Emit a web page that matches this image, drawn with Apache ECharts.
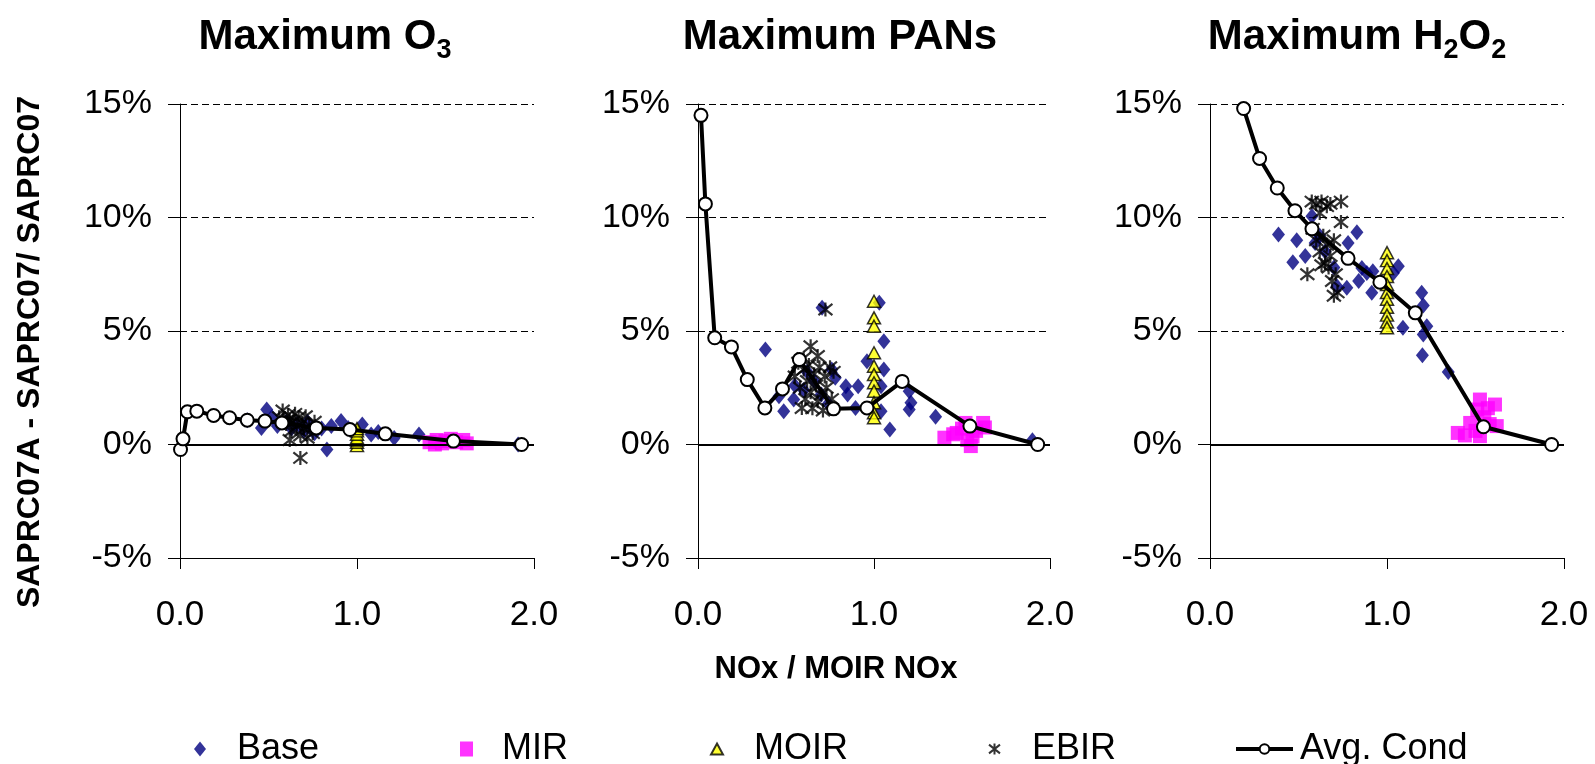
<!DOCTYPE html>
<html><head><meta charset="utf-8">
<script src="https://cdn.jsdelivr.net/npm/echarts@6/dist/echarts.min.js"></script>
<style>html,body{margin:0;padding:0;background:#fff}#c{width:1595px;height:764px}</style>
</head><body><div id="c"></div>
<script>
// ---------- DATA ----------
const panelTitles = ['Maximum O{s|3}', 'Maximum PANs', 'Maximum H{s|2}O{s|2}'];
const seriesNames = ['Base', 'MIR', 'MOIR', 'EBIR', 'Avg. Cond'];
const xTickMin = 0, xTickMax = 2, xTickStep = 1;
const yTickMin = -5, yTickMax = 15, yTickStep = 5;

// Maximum O3
const o3Base = [[0.38,1.07],[0.46,0.73],[0.49,1.54],[0.52,1.2],[0.55,0.81],[0.6,1.0],[0.63,0.7],[0.66,0.9],[0.7,0.6],[0.72,1.0],[0.76,0.5],[0.8,0.7],[0.83,-0.22],[0.855,0.81],[0.91,1.03],[0.95,0.73],[0.98,0.5],[1.03,0.88],[1.08,0.44],[1.12,0.55],[1.21,0.29],[1.35,0.44],[1.91,0.0]];
const o3Mir = [[1.41,0.1],[1.44,0.0],[1.45,0.2],[1.48,0.05],[1.5,0.15],[1.53,0.25],[1.56,0.1],[1.6,0.2],[1.62,0.05]];
const o3Moir = [[1.0,-0.05],[1.0,0.1],[1.0,0.2],[1.0,0.3],[1.0,0.45],[1.0,0.6],[1.0,0.7]];
const o3Ebir = [[0.56,1.2],[0.58,1.5],[0.6,0.9],[0.61,1.3],[0.62,1.1],[0.62,0.2],[0.63,0.6],[0.64,1.0],[0.65,1.35],[0.66,0.8],[0.67,1.2],[0.68,0.4],[0.68,-0.59],[0.69,0.95],[0.7,0.7],[0.71,1.25],[0.72,0.3],[0.73,0.85],[0.75,0.5],[0.76,1.0]];
const o3AvgX = [0.003,0.017,0.042,0.095,0.19,0.28,0.38,0.48,0.576,0.77,0.96,1.16,1.545,1.93];
const o3AvgY = [-0.22,0.25,1.44,1.47,1.28,1.18,1.07,1.03,0.95,0.73,0.66,0.47,0.15,0.0];

// Maximum PANs
const pansBase = [[0.383,4.18],[0.46,2.13],[0.487,1.47],[0.544,1.98],[0.55,2.6],[0.6,2.4],[0.62,3.2],[0.66,2.8],[0.7,2.2],[0.705,6.02],[0.74,1.8],[0.76,3.3],[0.78,2.94],[0.84,2.57],[0.85,2.2],[0.895,1.61],[0.91,2.57],[0.96,3.67],[1.03,6.24],[1.056,4.55],[1.056,3.3],[1.04,2.57],[1.04,1.47],[1.09,0.66],[1.2,2.35],[1.21,1.84],[1.2,1.54],[1.35,1.22],[1.9,0.19]];
const pansMir = [[1.40,0.30],[1.45,0.45],[1.47,0.51],[1.5,0.7],[1.52,0.95],[1.53,0.2],[1.55,-0.07],[1.56,0.35],[1.58,0.6],[1.62,0.95],[1.63,0.75]];
const pansMoir = [[1.0,6.31],[1.0,5.58],[1.0,5.21],[1.0,4.04],[1.0,3.45],[1.0,3.08],[1.0,2.72],[1.0,2.35],[1.0,1.84],[1.0,1.40],[1.0,1.18]];
const pansEbir = [[0.55,3.0],[0.57,3.6],[0.58,2.5],[0.59,1.61],[0.6,3.3],[0.6,3.8],[0.61,2.0],[0.62,2.8],[0.63,3.5],[0.64,4.33],[0.64,2.3],[0.65,1.6],[0.66,3.1],[0.67,2.6],[0.68,1.9],[0.68,3.9],[0.69,3.4],[0.7,2.2],[0.71,1.5],[0.72,3.0],[0.724,5.95],[0.73,2.5],[0.75,3.4],[0.76,2.0],[0.77,3.2]];
const pansAvgX = [0.017,0.042,0.095,0.19,0.28,0.38,0.48,0.576,0.77,0.96,1.16,1.545,1.93];
const pansAvgY = [14.5,10.6,4.70,4.30,2.86,1.61,2.45,3.74,1.57,1.61,2.78,0.81,0.0];

// Maximum H2O2
const h2o2Base = [[0.387,9.25],[0.468,8.03],[0.49,9.0],[0.538,8.3],[0.576,10.06],[0.594,8.88],[0.62,9.2],[0.65,8.5],[0.7,7.8],[0.717,6.97],[0.773,6.9],[0.78,8.88],[0.83,9.35],[0.84,7.2],[0.858,7.78],[0.886,7.56],[0.914,6.68],[0.92,7.63],[1.036,7.56],[1.064,7.85],[1.09,5.14],[1.196,6.68],[1.205,6.12],[1.225,5.21],[1.205,4.85],[1.2,3.93],[1.346,3.19]];
const h2o2Mir = [[1.40,0.51],[1.44,0.4],[1.47,0.95],[1.5,0.6],[1.51,1.54],[1.525,1.98],[1.525,0.37],[1.55,1.2],[1.57,1.6],[1.58,0.9],[1.61,1.76],[1.62,0.81]];
const h2o2Moir = [[1.0,8.45],[1.0,8.1],[1.0,7.75],[1.0,7.4],[1.0,7.05],[1.0,6.7],[1.0,6.4],[1.0,6.05],[1.0,5.7],[1.0,5.4],[1.0,5.14]];
const h2o2Ebir = [[0.55,7.5],[0.575,10.7],[0.58,9.5],[0.6,10.6],[0.6,9.0],[0.62,8.5],[0.62,10.2],[0.63,10.7],[0.63,7.9],[0.64,9.2],[0.65,8.0],[0.66,10.5],[0.66,8.8],[0.67,7.8],[0.68,10.6],[0.68,8.3],[0.69,7.2],[0.7,6.55],[0.7,9.0],[0.71,7.5],[0.72,6.7],[0.74,10.7],[0.74,9.8]];
const h2o2AvgX = [0.095,0.19,0.28,0.38,0.48,0.576,0.78,0.96,1.16,1.545,1.93];
const h2o2AvgY = [19.5,14.8,12.6,11.3,10.3,9.5,8.2,7.15,5.8,0.78,0.0];

const yAxisTitle = 'SAPRC07A - SAPRC07/ SAPRC07';
const xAxisTitle = 'NOx / MOIR NOx';

// ---------- BUILD ----------
const FONT = "'Liberation Sans', Arial, Helvetica, sans-serif";
const panels = [
  {base:o3Base, mir:o3Mir, moir:o3Moir, ebir:o3Ebir, ax:o3AvgX, ay:o3AvgY},
  {base:pansBase, mir:pansMir, moir:pansMoir, ebir:pansEbir, ax:pansAvgX, ay:pansAvgY},
  {base:h2o2Base, mir:h2o2Mir, moir:h2o2Moir, ebir:h2o2Ebir, ax:h2o2AvgX, ay:h2o2AvgY}
];
const gridPos = [
  {left:180, top:104, width:354, height:454},
  {left:698, top:104, width:352, height:454},
  {left:1210, top:104, width:354, height:454}
];
const titleCenters = [320, 835, 1352];
const STAR = 'path://M0,1L10,9M10,1L0,9M5,0L5,10';

const grid = [], xAxis = [], yAxis = [], series = [], title = [];
panels.forEach((p, i) => {
  grid.push(gridPos[i]);
  title.push({
    text: panelTitles[i], left: titleCenters[i], top: 11, textAlign: 'center',
    textStyle: {fontFamily: FONT, fontSize: 42, fontWeight: 'bold', color: '#000', lineHeight: 42,
      rich: {s: {fontFamily: FONT, fontSize: 27, fontWeight: 'bold', color: '#000', lineHeight: 27, padding: [27, 0, 0, 0]}}}
  });
  xAxis.push({
    gridIndex: i, type: 'value', min: xTickMin, max: xTickMax, interval: xTickStep,
    axisLine: {show: true, onZero: false, lineStyle: {color: '#000', width: 1}},
    axisTick: {show: true, length: 11, lineStyle: {color: '#000', width: 1}},
    axisLabel: {fontFamily: FONT, fontSize: 35, color: '#000', margin: 40, lineHeight: 35,
      showMinLabel: true, showMaxLabel: true, formatter: v => v.toFixed(1)},
    splitLine: {show: false}
  });
  yAxis.push({
    gridIndex: i, type: 'value', min: yTickMin, max: yTickMax, interval: yTickStep,
    axisLine: {show: true, onZero: false, lineStyle: {color: '#000', width: 1}},
    axisTick: {show: true, length: 12, lineStyle: {color: '#000', width: 1}},
    axisLabel: {fontFamily: FONT, fontSize: 34, color: '#000', margin: 28, formatter: v => v + '%'},
    splitLine: {show: true, lineStyle: {color: '#000', width: 1, type: [7, 4]}}
  });
  series.push({
    name: 'Base', type: 'scatter', xAxisIndex: i, yAxisIndex: i, data: p.base,
    symbol: 'diamond', symbolSize: [13, 16], itemStyle: {color: '#000080'}, z: 2
  });
  series.push({
    name: 'MIR', type: 'scatter', xAxisIndex: i, yAxisIndex: i, data: p.mir,
    symbol: 'rect', symbolSize: 14, itemStyle: {color: '#FF00FF'}, z: 3
  });
  series.push({
    name: 'MOIR', type: 'scatter', xAxisIndex: i, yAxisIndex: i, data: p.moir,
    symbol: 'triangle', symbolSize: [13, 12], itemStyle: {color: '#FFFF00', borderColor: '#000', borderWidth: 1.5}, z: 4
  });
  series.push({
    name: 'EBIR', type: 'scatter', xAxisIndex: i, yAxisIndex: i, data: p.ebir,
    symbol: STAR, symbolSize: 14, itemStyle: {color: 'rgba(0,0,0,0)', borderColor: '#000', borderWidth: 2.2}, z: 5
  });
  series.push({
    name: 'Avg. Cond', type: 'line', xAxisIndex: i, yAxisIndex: i,
    data: p.ax.map((x, k) => [x, p.ay[k]]),
    symbol: 'emptyCircle', symbolSize: 13, showAllSymbol: true,
    lineStyle: {color: '#000', width: 4}, itemStyle: {color: '#000', borderWidth: 2.5},
    z: 6,
    markLine: {silent: true, symbol: 'none', label: {show: false}, animation: false,
      lineStyle: {color: '#000', width: 2, type: 'solid'}, data: [{yAxis: 0}]}
  });
});

const legendDefs = [
  {name: 'Base', left: 194, w: 12, h: 15, pad: 26},
  {name: 'MIR', left: 460, w: 13, h: 15, pad: 24},
  {name: 'MOIR', left: 710, w: 12, h: 11, pad: 26},
  {name: 'EBIR', left: 988, w: 11, h: 12, pad: 27},
  {name: 'Avg. Cond', left: 1234, w: 57, h: 12, pad: 2}
];
const legend = legendDefs.map(d => {
  const l = {
    data: [d.name], left: d.left, top: 731, itemWidth: d.w, itemHeight: d.h, selectedMode: false,
    padding: 0,
    textStyle: {fontFamily: FONT, fontSize: 36, color: '#000', padding: [0, 0, 0, d.pad]}
  };
  if (d.name === 'Avg. Cond') {
    l.lineStyle = {width: 4};
  }
  return l;
});

const chart = echarts.init(document.getElementById('c'), null, {renderer: 'canvas'});
chart.setOption({
  animation: false,
  backgroundColor: '#fff',
  title, grid, xAxis, yAxis, series, legend,
  graphic: [
    {type: 'text', x: 30, y: 352, rotation: Math.PI / 2,
      style: {text: yAxisTitle, font: 'bold 32px ' + FONT, fill: '#000', align: 'center', verticalAlign: 'middle'}},
    {type: 'text', x: 836, y: 669,
      style: {text: xAxisTitle, font: 'bold 31px ' + FONT, fill: '#000', align: 'center', verticalAlign: 'middle'}}
  ]
});
</script>
</body></html>
